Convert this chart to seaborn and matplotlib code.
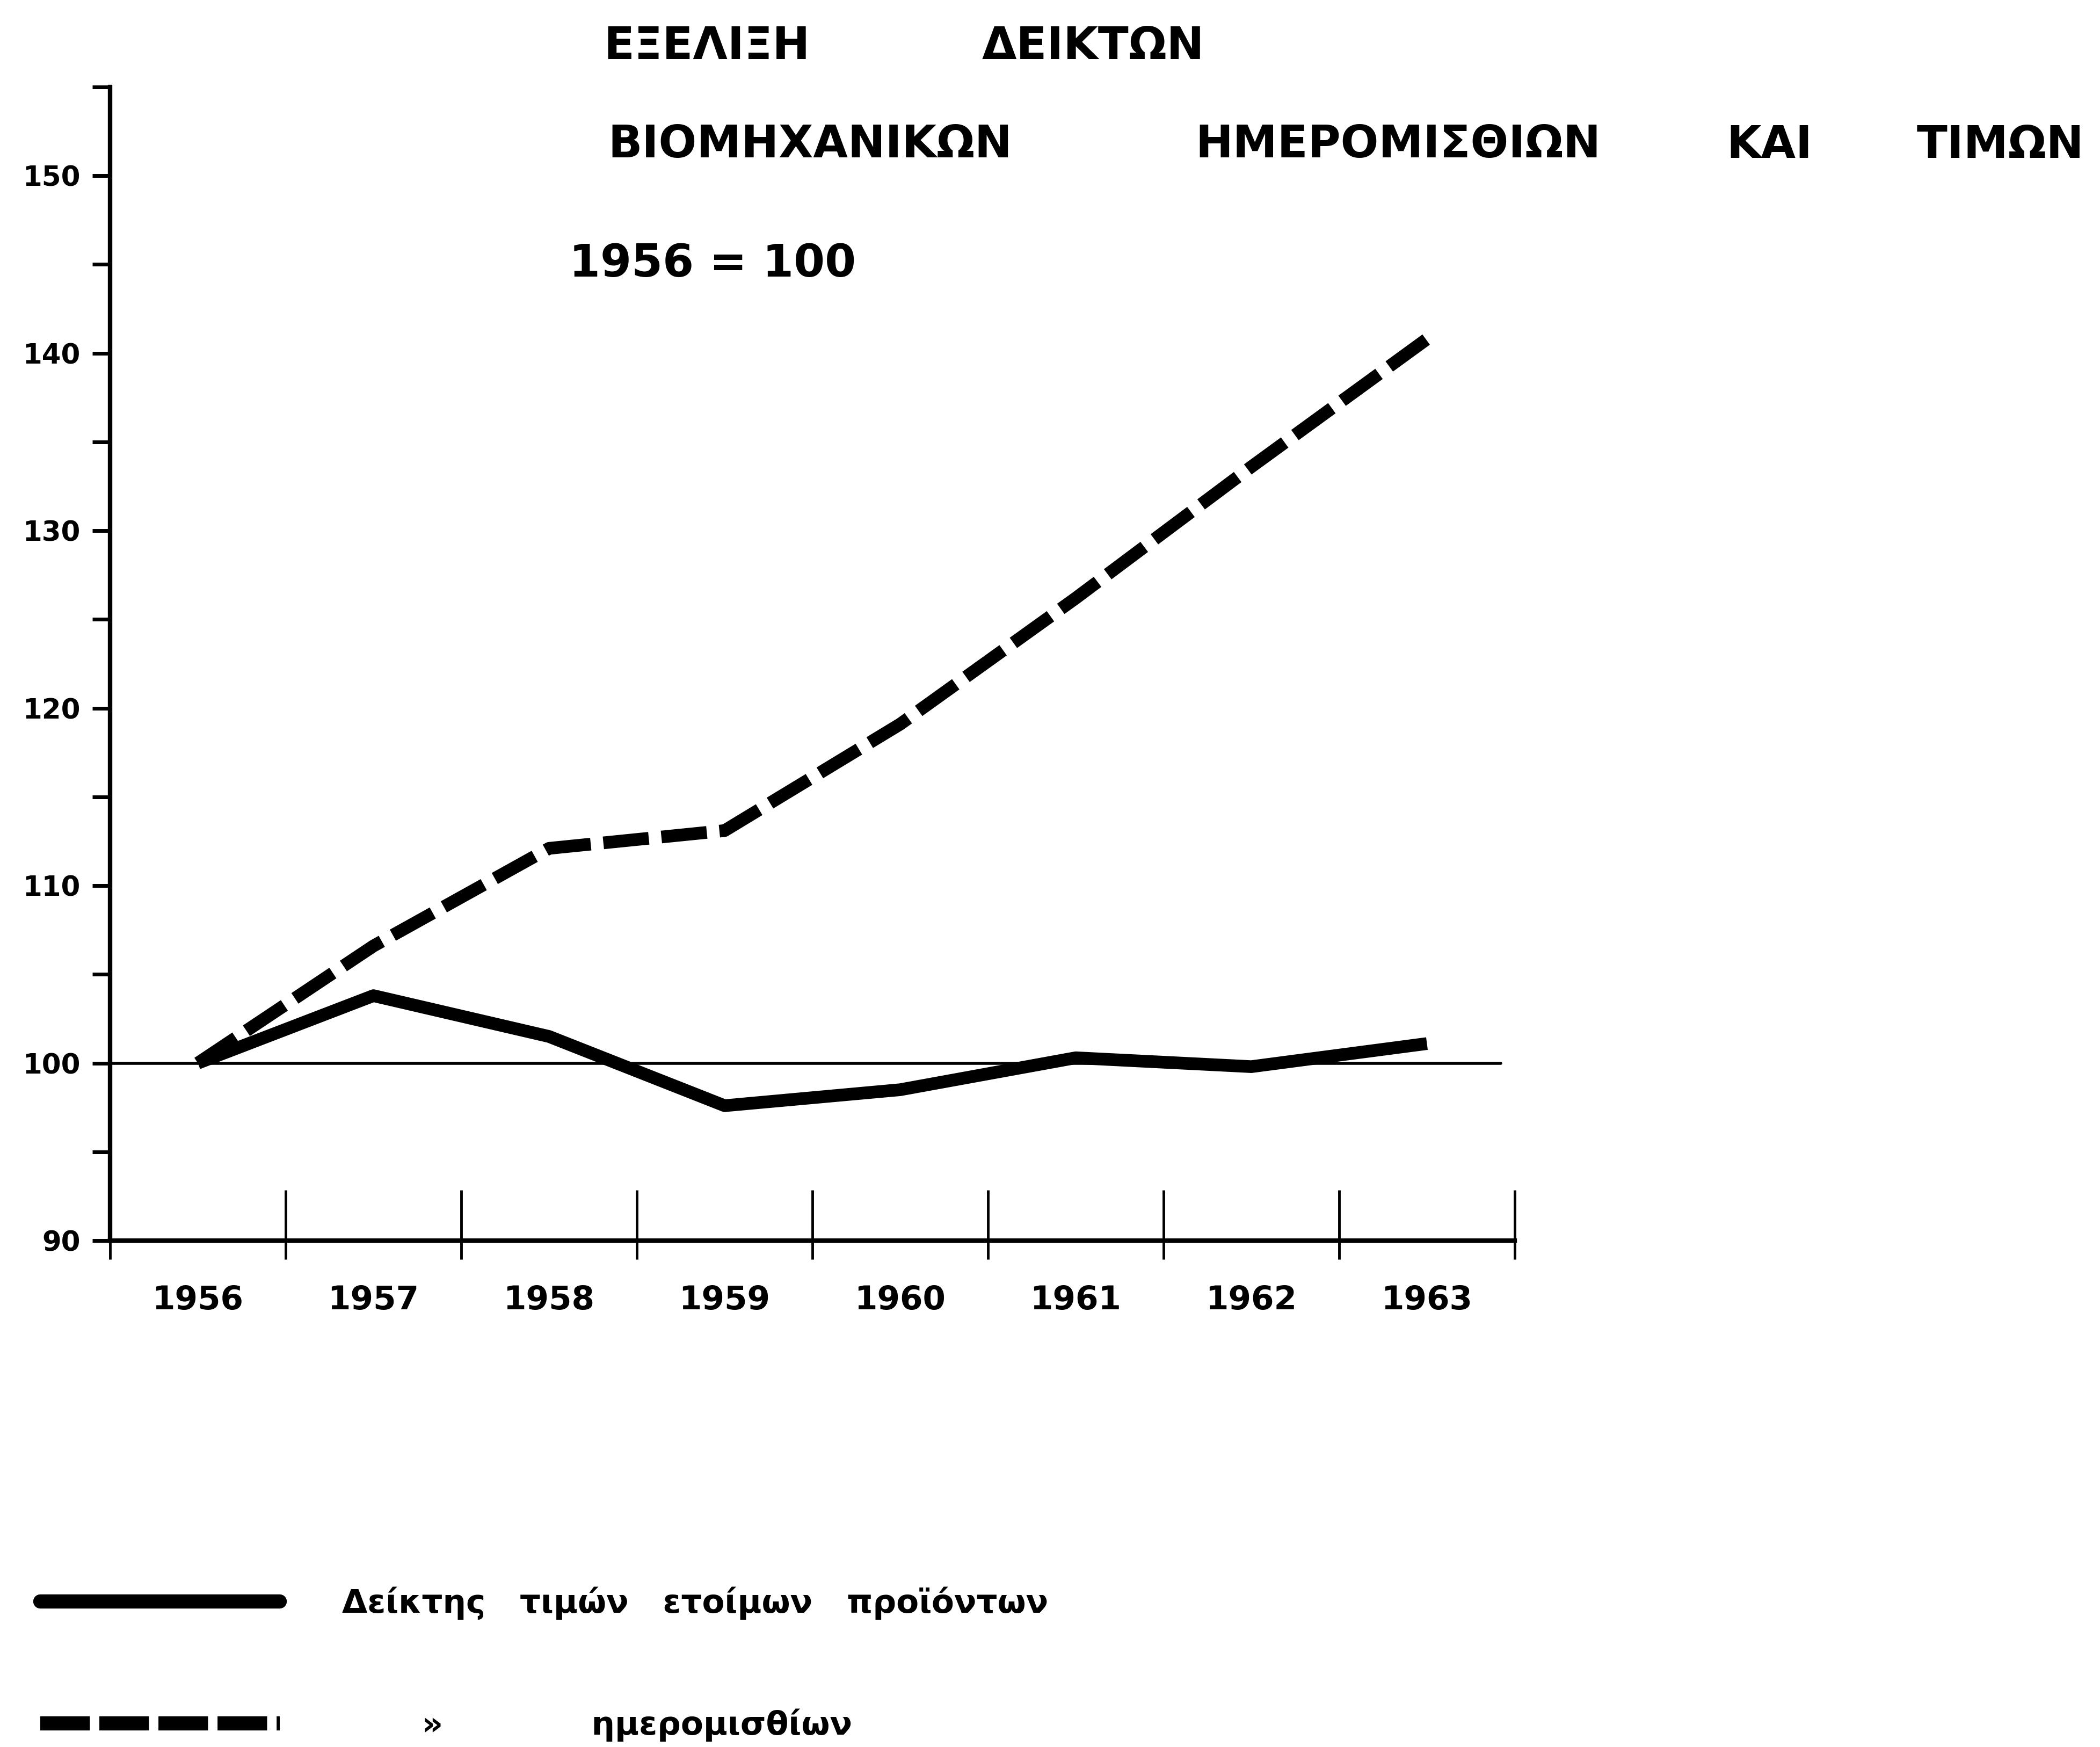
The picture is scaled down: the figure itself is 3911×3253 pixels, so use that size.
import numpy as np
import pandas as pd
import matplotlib
matplotlib.use("Agg")
import matplotlib.pyplot as plt
import seaborn as sns
from matplotlib.lines import Line2D
from matplotlib.ticker import FixedLocator

# ---------------- data ----------------
years = [1956, 1957, 1958, 1959, 1960, 1961, 1962, 1963]
price_index = [100.0, 103.8, 101.5, 97.6, 98.5, 100.3, 99.8, 101.1]   # Δείκτης τιμών ετοίμων προϊόντων
wage_index = [100.0, 106.6, 112.1, 113.1, 119.1, 126.2, 133.6, 140.8]  # Δείκτης ημερομισθίων
y_major = [90, 100, 110, 120, 130, 140, 150]
y_minor = [95, 105, 115, 125, 135, 145, 155]
base_value = 100

title_line1 = ["ΕΞΕΛΙΞΗ", "ΔΕΙΚΤΩΝ"]
title_line2 = ["ΒΙΟΜΗΧΑΝΙΚΩΝ", "ΗΜΕΡΟΜΙΣΘΙΩΝ", "ΚΑΙ", "ΤΙΜΩΝ"]
subtitle = "1956 = 100"
legend_labels = ["Δείκτης   τιμών   ετοίμων   προϊόντων",
                 "       »             ημερομισθίων"]

# ---------------- style ----------------
sns.set_style("ticks", {"text.color": "black", "xtick.color": "black",
                        "ytick.color": "black", "axes.labelcolor": "black",
                        "axes.edgecolor": "black"})
plt.rcParams['font.family'] = ['DejaVu Sans']

W, H = 3911, 3253
fig = plt.figure(figsize=(W / 100, H / 100), dpi=100)
fig.patch.set_facecolor("white")
ax = fig.add_axes([205 / W, 1 - 2310 / H, (2821 - 205) / W, (2310 - 162) / H])

df = pd.DataFrame({"year": years, "prices": price_index, "wages": wage_index})

sns.lineplot(data=df, x="year", y="prices", ax=ax, color="black", lw=17,
             solid_joinstyle="round", solid_capstyle="butt", zorder=3)
sns.lineplot(data=df, x="year", y="wages", ax=ax, color="black", lw=17,
             linestyle=(0, (3.6, 1.0)), dash_capstyle="butt",
             dash_joinstyle="round", zorder=3)

ax.axhline(base_value, xmin=0, xmax=0.99, color="black", lw=4, zorder=2)

ax.set_xlim(years[0] - 0.5, years[-1] + 0.5)
ax.set_ylim(y_major[0], y_minor[-1])
ax.set_xlabel("")
ax.set_ylabel("")

for s in ["top", "right"]:
    ax.spines[s].set_visible(False)
for s in ["left", "bottom"]:
    ax.spines[s].set_linewidth(6)
    ax.spines[s].set_color("black")

# x axis: labels centred in each year slot, tick marks at slot boundaries
ax.set_xticks(years)
ax.set_xticklabels([str(y) for y in years], fontsize=44, fontweight="bold",
                   color="black")
ax.tick_params(axis="x", which="major", length=0, pad=59)
boundaries = [y - 0.5 for y in years] + [years[-1] + 0.5]
ax.xaxis.set_minor_locator(FixedLocator(boundaries))
ax.tick_params(axis="x", which="minor", direction="in", length=68, width=3.5,
               color="black", bottom=True)
sec = ax.secondary_xaxis("bottom")
sec.set_xticks(boundaries)
sec.tick_params(direction="out", length=25, width=3.5, color="black",
                labelbottom=False)
sec.spines["bottom"].set_visible(False)

# y axis
ax.set_yticks(y_major)
ax.set_yticklabels([str(v) for v in y_major], fontsize=37, fontweight="bold",
                   color="black")
ax.set_yticks(y_minor, minor=True)
ax.tick_params(axis="y", which="both", direction="out", length=24, width=5,
               pad=16, color="black", left=True)

# ---------------- titles ----------------
line1_x = [1316, 2036]
line2_x = [1509, 2604, 3295, 3725]
for word, xc in zip(title_line1, line1_x):
    fig.text(xc / W, 1 - 87 / H, word, ha="center", va="center",
             fontsize=60, fontweight="bold", color="black")
for word, xc in zip(title_line2, line2_x):
    fig.text(xc / W, 1 - 270 / H, word, ha="center", va="center",
             fontsize=60, fontweight="bold", color="black")
fig.text(1060 / W, 1 - 491 / H, subtitle, ha="left", va="center",
         fontsize=60, fontweight="bold", color="black")

# ---------------- legend ----------------
handles = [
    Line2D([], [], color="black", lw=19, solid_capstyle="round"),
    Line2D([], [], color="black", lw=19, linestyle=(0, (3.5, 0.67)),
           dash_capstyle="butt"),
]
leg = fig.legend(handles, legend_labels, loc="upper left",
                 bbox_to_anchor=(75 / W, 1 - 2955 / H), frameon=False,
                 prop={"size": 44, "weight": "bold"}, handlelength=7.3,
                 handletextpad=1.9, labelspacing=2.7, borderpad=0,
                 borderaxespad=0)
for t in leg.get_texts():
    t.set_color("black")

fig.savefig("out.png", dpi=100, facecolor="white")
